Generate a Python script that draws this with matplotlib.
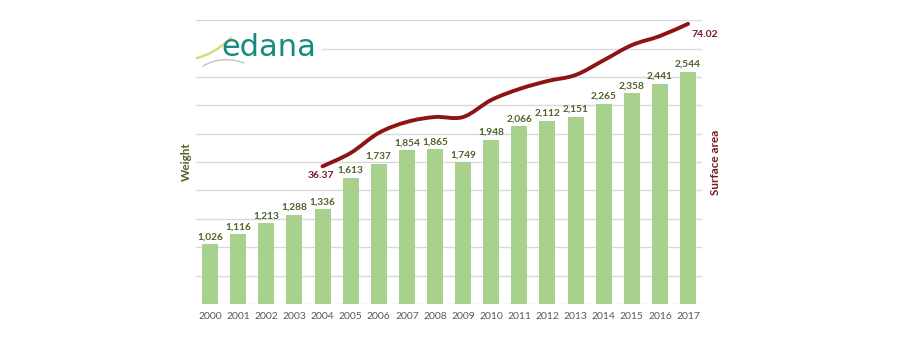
import numpy as np
import matplotlib.pyplot as plt
from matplotlib.path import Path
from matplotlib.patches import PathPatch, Rectangle

plt.rcParams['font.family'] = ['Lato', 'DejaVu Sans']

# Nonwovens production: weight (bars) and surface area (line)
years = ['2000', '2001', '2002', '2003', '2004', '2005', '2006', '2007', '2008',
         '2009', '2010', '2011', '2012', '2013', '2014', '2015', '2016', '2017']
weight = [1026, 1116, 1213, 1288, 1336, 1613, 1737, 1854, 1865,
          1749, 1948, 2066, 2112, 2151, 2265, 2358, 2441, 2544]

area_years = ['2004', '2005', '2006', '2007', '2008', '2009', '2010', '2011',
              '2012', '2013', '2014', '2015', '2016', '2017']
area = [36.37, 39.9, 45.2, 48.1, 49.4, 49.4, 53.9, 56.8,
        58.9, 60.5, 64.4, 68.4, 70.8, 74.02]

bar_color = '#a9d18e'
bar_text = '#4f6228'
line_color = '#8e1414'
label_red = '#7a1b24'

W, H = 899, 347
fig = plt.figure(figsize=(W / 100, H / 100), dpi=100)
ax = fig.add_axes([0.218, 0.124, 0.563, 0.818])

x = np.arange(len(years))
ax.bar(x, weight, width=0.57, color=bar_color, zorder=2)
for xi, v in zip(x, weight):
    ax.text(xi, v + 25, f'{v:,}', ha='center', va='bottom', fontsize=7.3,
            color=bar_text, fontweight='bold')

ax.set_ylim(500, 3000)
ax.set_xlim(-0.5, len(years) - 0.5)
ax.set_yticks(np.arange(500, 3001, 250))
ax.yaxis.grid(True, color='#d9d9d9', linewidth=1, zorder=0)
ax.set_axisbelow(True)
ax.tick_params(axis='y', length=0, labelleft=False)
ax.tick_params(axis='x', length=0, labelsize=7.5, labelcolor='#595959', pad=6)
ax.set_xticks(x)
ax.set_xticklabels(years)
for s in ax.spines.values():
    s.set_visible(False)
ax.set_ylabel('Weight', color='#4f6228', fontsize=8.5, fontweight='bold', labelpad=3)

# surface area on a second axis, drawn as a smooth curve through the points
ax2 = ax.twinx()
ax2.set_ylim(0, 75)
ax2.set_yticks([])
for s in ax2.spines.values():
    s.set_visible(False)
ax2.set_ylabel('Surface area', color=label_red, fontsize=8.5, fontweight='bold', labelpad=6)

ax_idx = np.array([years.index(y) for y in area_years], dtype=float)
pts = np.column_stack([ax_idx, area])
verts = [tuple(pts[0])]
codes = [Path.MOVETO]
n = len(pts)
for i in range(n - 1):
    p0 = pts[max(i - 1, 0)]
    p1 = pts[i]
    p2 = pts[i + 1]
    p3 = pts[min(i + 2, n - 1)]
    c1 = p1 + (p2 - p0) / 6
    c2 = p2 - (p3 - p1) / 6
    verts += [tuple(c1), tuple(c2), tuple(p2)]
    codes += [Path.CURVE4] * 3
ax2.add_patch(PathPatch(Path(verts, codes), facecolor='none', edgecolor=line_color,
                        linewidth=2.8, capstyle='round', zorder=3))

ax2.text(ax_idx[0] - 0.05, area[0] - 1.2, f'{area[0]:.2f}', ha='center', va='top',
         fontsize=7.5, color=label_red, fontweight='bold')
ax2.text(ax_idx[-1] + 0.6, area[-1] - 1.5, f'{area[-1]:.2f}', ha='center', va='top',
         fontsize=7.5, color=label_red, fontweight='bold')


# edana logo on a white patch over the grid
def fx(px):
    return px / W


def fy(py):
    return 1 - py / H


fig.add_artist(Rectangle((fx(192), fy(66)), fx(130) , 32 / H, facecolor='white',
                         edgecolor='none', transform=fig.transFigure, zorder=5))
fig.text(fx(221), fy(48), 'edana', fontsize=22, color='#178a7e', ha='left', va='center',
         family='DejaVu Sans', zorder=7)


def swoosh(p0, c, p1, color, lw):
    # quadratic curve given in pixel positions from the top-left corner
    v = [(fx(px), fy(py)) for px, py in (p0, c, p1)]
    path = Path(v, [Path.MOVETO, Path.CURVE3, Path.CURVE3])
    fig.add_artist(PathPatch(path, facecolor='none', edgecolor=color, linewidth=lw,
                             transform=fig.transFigure, capstyle='round', zorder=6))


swoosh((197, 58), (214, 54), (231, 38), '#dcd97a', 1.8)
swoosh((203, 66), (222, 55), (244, 63), '#c2c2c2', 1.0)

fig.savefig('out.png', dpi=100)
